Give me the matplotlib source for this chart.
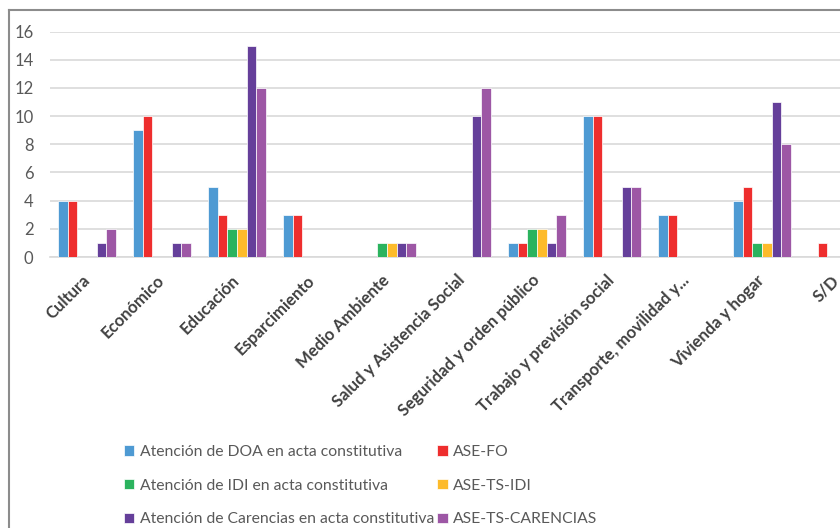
import matplotlib
matplotlib.use("Agg")
import matplotlib.pyplot as plt
import numpy as np
from matplotlib.lines import Line2D

categories = ["Cultura", "Económico", "Educación", "Esparcimiento", "Medio Ambiente",
              "Salud y Asistencia Social", "Seguridad y orden público",
              "Trabajo y previsión social", "Transporte, movilidad y...",
              "Vivienda y hogar", "S/D"]

series_names = ["Atención de DOA en acta constitutiva", "ASE-FO",
                "Atención de IDI en acta constitutiva", "ASE-TS-IDI",
                "Atención de Carencias en acta constitutiva", "ASE-TS-CARENCIAS"]

doa_acta = [4, 9, 5, 3, 0, 0, 1, 10, 3, 4, 0]
ase_fo = [4, 10, 3, 3, 0, 0, 1, 10, 3, 5, 1]
idi_acta = [0, 0, 2, 0, 1, 0, 2, 0, 0, 1, 0]
ase_ts_idi = [0, 0, 2, 0, 1, 0, 2, 0, 0, 1, 0]
carencias_acta = [1, 1, 15, 0, 1, 10, 1, 5, 0, 11, 0]
ase_ts_carencias = [2, 1, 12, 0, 1, 12, 3, 5, 0, 8, 0]

values = [doa_acta, ase_fo, idi_acta, ase_ts_idi, carencias_acta, ase_ts_carencias]
colors = ["#4E9AD3", "#EE2E2E", "#2BB35E", "#FDBB2B", "#653F9A", "#9D57A5"]

yticks = [0, 2, 4, 6, 8, 10, 12, 14, 16]

plt.rcParams['font.family'] = ['Lato', 'DejaVu Sans']

W, H = 840, 528
fig = plt.figure(figsize=(W / 100, H / 100), dpi=100)

left_px, right_px = 49.5, 874.5
top_px, bottom_px = 31.5, 257.0
ax = fig.add_axes([left_px / W, 1 - bottom_px / H, (right_px - left_px) / W,
                   (bottom_px - top_px) / H])

x = np.arange(len(categories))
bw = 0.129
n = len(values)
for i, (vals, c, name) in enumerate(zip(values, colors, series_names)):
    offs = (i - (n - 1) / 2) * bw
    ax.bar(x + offs, vals, width=bw, color=c, edgecolor="white", linewidth=0.5,
           label=name, zorder=3)

ax.set_xlim(-0.5, len(categories) - 0.5)
ax.set_ylim(0, 16)
ax.set_yticks(yticks)
ax.set_yticklabels([str(t) for t in yticks])
ax.yaxis.grid(True, color="#D9D9D9", linewidth=1.2, zorder=0)
ax.set_axisbelow(True)
for s in ["top", "right", "left"]:
    ax.spines[s].set_visible(False)
ax.spines["bottom"].set_color("#D9D9D9")
ax.spines["bottom"].set_linewidth(1.2)
ax.tick_params(axis="both", length=0)
ax.tick_params(axis="y", labelsize=12, labelcolor="#595959", pad=11.5)
ax.set_xticks(x)
ax.set_xticklabels(categories, rotation=45, ha="right", va="center",
                   rotation_mode="anchor", fontsize=12, fontweight="bold",
                   color="#404040")
ax.tick_params(axis="x", pad=15)

# outer frame (chart area border, cropped at right and bottom)
fig.add_artist(Line2D([8.5 / W, 8.5 / W], [0, 1 - 10 / H], transform=fig.transFigure,
                      color="#8C8C8C", linewidth=1.5))
fig.add_artist(Line2D([8.5 / W, 1], [1 - 10 / H, 1 - 10 / H], transform=fig.transFigure,
                      color="#8C8C8C", linewidth=1.5))

handles, labels = ax.get_legend_handles_labels()
order = [0, 2, 4, 1, 3, 5]
leg = fig.legend([handles[i] for i in order], [labels[i] for i in order],
                 ncol=2, loc="upper left", bbox_to_anchor=(110 / W, 1 - 431 / H),
                 frameon=False, fontsize=11.3, labelcolor="#595959",
                 handlelength=0.65, handleheight=0.65, handletextpad=0.35,
                 columnspacing=0.2, labelspacing=1.25)

fig.savefig("out.png", dpi=100)
